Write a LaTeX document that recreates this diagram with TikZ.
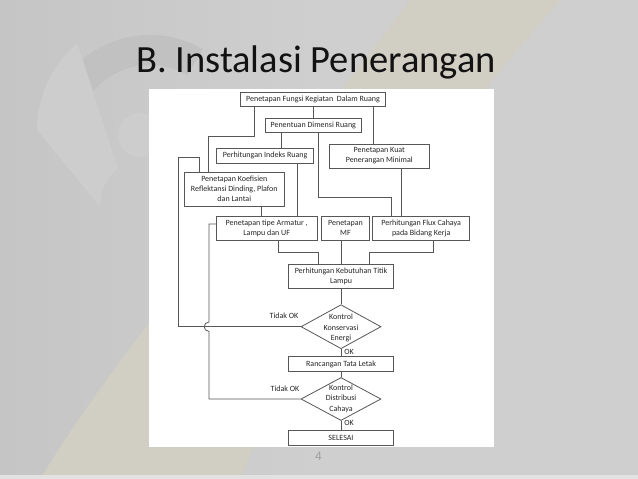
\documentclass[tikz,border=0pt]{standalone}
\usepackage{fontspec}
\setmainfont{Carlito}
\usetikzlibrary{shapes.geometric}
\definecolor{bgl}{HTML}{C5C5C5}
\definecolor{bgr}{HTML}{CFCFCF}
\definecolor{beige}{HTML}{D1CEC4}
\definecolor{fanc}{HTML}{CDCDCD}
\definecolor{ringc}{HTML}{C1C1C1}
\definecolor{linec}{HTML}{575757}
\definecolor{textc}{HTML}{262626}
\tikzset{
  box/.style={draw=linec, line width=0.8pt, fill=white, inner sep=0pt, align=center,
    text=textc, font=\fontsize{8}{10}\selectfont},
  dia/.style={draw=linec, line width=0.8pt, fill=white, inner sep=0pt, shape=diamond},
  dtext/.style={align=center, text=textc, font=\fontsize{8}{10.5}\selectfont, inner sep=0pt},
  conn/.style={draw=linec, line width=0.8pt},
  lbl/.style={text=textc, font=\fontsize{8}{10}\selectfont, inner sep=0pt}
}
\begin{document}
\begin{tikzpicture}[x=1pt,y=-1pt]
\useasboundingbox (0,0) rectangle (638,479);
% background
\shade[left color=bgl, right color=bgr] (0,0) rectangle (320,479);
\fill[bgr] (320,0) rectangle (638,479);
\fill[beige] (410,0) .. controls (300,150) and (150,300) .. (40,479)
  -- (240,479) .. controls (300,330) and (430,150) .. (560,0) -- cycle;
\fill[ringc] (75,140) arc[start angle=180, end angle=300, radius=75]
  -- (202.5,49) arc[start angle=300, end angle=180, radius=105] -- cycle;
\fill[fanc] (37,130) arc[start angle=180, end angle=230, radius=113]
  -- (117.9,168.3) arc[start angle=230, end angle=180, radius=50] -- cycle;
\fill[fanc] (140,135) circle[radius=22];
\fill[bgr!60!white] (0,475) rectangle (638,479);
% title and page number
\node[anchor=base west, inner sep=0pt, text=black!93, font=\fontsize{38.5}{40}\selectfont] (title) at (136,72) {B. Instalasi Penerangan};
\node[inner sep=0pt, text=black!38, font=\fontsize{13}{14}\selectfont] (pg) at (318.5,456) {4};
% panel
\fill[white] (149,89) rectangle (494,447);
% connectors (drawn first, boxes on top)
\draw[conn] (313.3,99.7) -- (313.3,125.3);
\draw[conn] (254,99.7) -- (254,136.7) -- (208.7,136.7) -- (208.7,189);
\draw[conn] (373.3,99.7) -- (373.3,156);
\draw[conn] (281.3,125.3) -- (281.3,155);
\draw[conn] (318,125.3) -- (318,197) -- (391.7,197) -- (391.7,228);
\draw[conn] (401,156) -- (401,228);
\draw[conn] (297,155) -- (297,228);
\draw[conn] (261.3,189) -- (261.3,228);
\draw[conn] (278.7,228) -- (278.7,252.3) -- (318,252.3) -- (318,276);
\draw[conn] (341.7,228) -- (341.7,276);
\draw[conn] (433.3,228) -- (433.3,252.3) -- (369,252.3) -- (369,276);
% boxes
\node[box, minimum width=145.3, minimum height=14] (b1) at (313,99.7) {Penetapan Fungsi Kegiatan\ \ Dalam Ruang};
\node[box, minimum width=96, minimum height=14] (b2) at (313.3,125.3) {Penentuan Dimensi Ruang};
\node[box, minimum width=97.2, minimum height=15.5] (b3) at (265.1,155.7) {Perhitungan Indeks Ruang};
\node[box, minimum width=100, minimum height=24] (b4) at (379.3,156.1) {Penetapan Kuat\\Penerangan Minimal};
\node[box, minimum width=100.7, minimum height=34] (b5) at (234.3,189.2) {Penetapan Koefisien\\Reflektansi Dinding, Plafon\\dan Lantai};
\node[box, minimum width=100.7, minimum height=24] (b6) at (266.7,228) {Penetapan tipe Armatur ,\\Lampu dan UF};
\node[box, minimum width=47.6, minimum height=24] (b7) at (345.5,228) {Penetapan\\MF};
\node[box, minimum width=97, minimum height=24] (b8) at (421.2,228) {Perhitungan Flux Cahaya\\pada Bidang Kerja};
\node[box, minimum width=104.6, minimum height=24] (b9) at (341,276.3) {Perhitungan Kebutuhan Titik\\Lampu};
\node[dia, minimum width=80, minimum height=44] (d1) at (341,326.7) {};
\node[dtext] (d1t) at (341,328) {Kontrol\\Konservasi\\Energi};
\node[box, minimum width=104.6, minimum height=15] (b11) at (341,364.2) {Rancangan Tata Letak};
\node[dia, minimum width=80, minimum height=43] (d2) at (341,399) {};
\node[dtext] (d2t) at (341,398.8) {Kontrol\\Distribusi\\Cahaya};
\node[box, minimum width=104.6, minimum height=15] (b13) at (341,437.5) {SELESAI};
% central flow
\draw[conn] (b9.south -| d1.north) -- (d1.north);
\draw[conn] (d1.south) -- (b11.north -| d1.south);
\draw[conn] (b11.south -| d2.north) -- (d2.north);
\draw[conn] (d2.south) -- (b13.north -| d2.south);
% feedback loops
\draw[conn] (b5.north -| 199,0) -- (199,157.3) -- (178,157.3) -- (178,326.7) -- (d1.west);
\draw[conn] ([yshift=4pt]b6.west) -- (209,224) -- (209,322)
  .. controls (202.7,322) and (202.7,331.4) .. (209,331.4) -- (209,399) -- (d2.west);
% labels
\node[lbl] (tok1) at (284,316) {Tidak OK};
\node[lbl] (tok2) at (285,388.3) {Tidak OK};
\node[lbl] (ok1) at (349,351.7) {OK};
\node[lbl] (ok2) at (349,423.3) {OK};
\end{tikzpicture}
\end{document}
